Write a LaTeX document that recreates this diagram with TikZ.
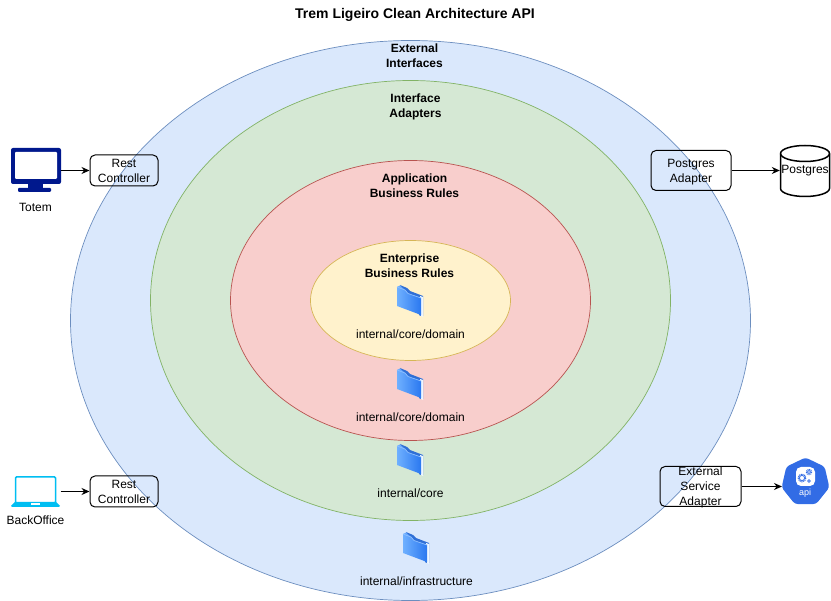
\documentclass[tikz,border=0pt]{standalone}
\usepackage{fontspec}
\setmainfont{Liberation Sans}
\usetikzlibrary{arrows.meta,shapes.geometric}
\definecolor{extfill}{HTML}{DAE8FC}\definecolor{extline}{HTML}{6C8EBF}
\definecolor{adpfill}{HTML}{D5E8D4}\definecolor{adpline}{HTML}{82B366}
\definecolor{appfill}{HTML}{F8CECC}\definecolor{appline}{HTML}{B85450}
\definecolor{entfill}{HTML}{FFF2CC}\definecolor{entline}{HTML}{D6B656}
\definecolor{totemblue}{HTML}{00188D}\definecolor{laptopblue}{HTML}{00BEF2}
\definecolor{apiblue}{HTML}{326CE5}
\definecolor{folderback}{HTML}{2F6FD6}\definecolor{folderedge}{HTML}{8FC0FF}
\definecolor{folderlight}{HTML}{6FB0FF}\definecolor{folderdark}{HTML}{2A78F0}
\tikzset{
  txt/.style={font=\fontsize{12}{15}\selectfont,align=center,inner sep=0pt},
  head/.style={font=\fontsize{12}{15}\selectfont\bfseries,align=center,inner sep=0pt},
  ring/.style={ellipse,draw,line width=0.7pt,inner sep=0pt},
  adapter/.style={draw,line width=1pt,rounded corners=5pt,inner sep=0pt,label={[txt,yshift=-1.3pt]center:\strut #1\strut}},
  conn/.style={-{Stealth[length=8pt,width=7pt]},line width=1pt},
  iconbox/.style={inner sep=0pt},
  folder/.pic={
    \fill[folderback] (-10,-16) -- (-3,-13) -- (0,-10) -- (13,-5) -- (13,15) -- (10,15) -- cycle;
    \fill[white!85!folderedge] (10,-5) -- (13,-4) -- (13,16) -- (11,15) -- cycle;
    \shade[left color=folderlight,right color=folderdark] (-13,-14) -- (-10,-15.5) -- (-5,-11) -- (-2,-7.5) -- (11,-3) -- (11,14) -- (-13,5) -- cycle;
    \draw[folderedge,line width=0.7pt] (-13,-14) -- (-5,-11) -- (-2,-7.5) -- (11,-3);
  }
}
\begin{document}
\begin{tikzpicture}[x=1pt,y=-1pt]
\useasboundingbox (0,0) rectangle (831,601);

% the four rings, outermost first
\node[ring,fill=extfill,draw=extline,minimum width=680pt,minimum height=560pt] (external) at (410.5,320.5) {};
\node[ring,fill=adpfill,draw=adpline,minimum width=520pt,minimum height=440pt] (interface) at (410.5,300.5) {};
\node[ring,fill=appfill,draw=appline,minimum width=360pt,minimum height=280pt] (application) at (410.5,300.5) {};
\node[ring,fill=entfill,draw=entline,minimum width=200pt,minimum height=120pt] (enterprise) at (410.5,300.5) {};

\node[head,font=\fontsize{14}{17}\selectfont\bfseries] (title) at (415,15) {Trem Ligeiro Clean Architecture API};
\foreach \name/\x/\y/\val in {exthead/414.5/55.5/External\\Interfaces,adphead/415.5/106.5/Interface\\Adapters,apphead/414.5/185.5/Application\\Business Rules,enthead/409.5/265.5/Enterprise\\Business Rules}
\node[head] (\name) at (\x,\y) {\val};

% folders and their packages
\foreach \x/\y in {410/301,410/384,410/460,416/548}
\pic at (\x,\y) {folder};
\foreach \name/\x/\y/\val in {domaina/410.5/334/{internal/core/domain},domainb/410.5/417/{internal/core/domain},core/410.5/493/{internal/core},infra/416.5/581/{internal/infrastructure}}
\node[txt] (\name) at (\x,\y) {\val};

% adapters
\node[adapter={Rest\\Controller},minimum width=68pt,minimum height=31pt] (resta) at (124,170.5) {};
\node[adapter={Rest\\Controller},minimum width=68pt,minimum height=31pt] (restb) at (124,491.5) {};
\node[adapter={Postgres\\Adapter},minimum width=80pt,minimum height=40pt] (pgadapter) at (691,170.5) {};
\node[adapter={External\\Service\\Adapter},minimum width=81pt,minimum height=40pt] (extadapter) at (700.5,486.5) {};

% totem
\fill[totemblue,rounded corners=2pt] (11,148) rectangle (61,184);
\fill[white,rounded corners=1pt] (15,152) rectangle (57,179);
\fill[totemblue] (28,184) rectangle (43,188);
\fill[totemblue,rounded corners=1pt] (18,188) rectangle (51,192);
\node[iconbox,minimum width=50pt,minimum height=44pt] (totem) at (35.5,170.5) {};
\node[txt] (totemlabel) at (35.5,207) {Totem};

% backoffice
\draw[laptopblue,line width=1.5pt,fill=white,rounded corners=1pt] (15.5,477) rectangle (55.5,503);
\fill[laptopblue] (15,502) -- (56,502) -- (60,506) -- (59,507) -- (12,507) -- (11,506) -- cycle;
\fill[white] (31,503) rectangle (40,505);
\node[iconbox,minimum width=50pt,minimum height=31pt] (laptop) at (35.5,491.5) {};
\node[txt] (laptoplabel) at (35.5,520) {BackOffice};

% postgres
\draw[line width=1.5pt] (780.5,153.5) arc (180:360:24.5 and 8) -- (829.5,188.5) arc (0:180:24.5 and 8) -- cycle;
\draw[line width=1.5pt] (780.5,153.5) arc (180:0:24.5 and 8);
\node[iconbox,txt,minimum width=50pt,minimum height=51pt] (postgres) at (805,170.5) {Postgres};

% api
\node[regular polygon,regular polygon sides=7,fill=apiblue,rounded corners=3pt,minimum size=49pt,inner sep=0pt] (api) at (805.5,482) {};
\fill[white,rounded corners=5pt] (796,467) rectangle (815,486);
\draw[apiblue,line width=0.8pt] (802,478) circle (2.6);
\draw[apiblue,line width=1.2pt,dash pattern=on 1pt off 0.8pt] (802,478) circle (3.8);
\draw[apiblue,line width=0.7pt] (809,472) circle (1.7);
\draw[apiblue,line width=1pt,dash pattern=on 1pt off 0.8pt] (809,472) circle (2.7);
\draw[apiblue,line width=0.7pt] (809,481) circle (1.3);
\node[txt,white,font=\fontsize{9}{10}\selectfont] (apilabel) at (805,493) {api};
\coordinate (apiin) at (782,486.5);

\foreach \from/\to in {totem/resta,laptop/restb,pgadapter/postgres,extadapter/apiin}
\draw[conn] (\from) -- (\to);

\end{tikzpicture}
\end{document}
